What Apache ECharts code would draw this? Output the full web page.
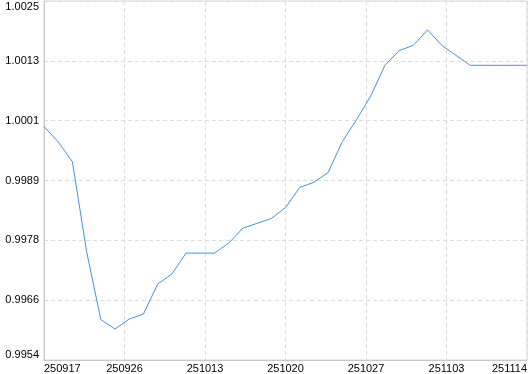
<!DOCTYPE html>
<html>
<head>
<meta charset="utf-8">
<script src="https://cdn.jsdelivr.net/npm/echarts@6/dist/echarts.min.js"></script>
<style>
html,body{margin:0;padding:0;background:#fff;}
#chart{width:530px;height:374px;}
</style>
</head>
<body>
<div id="chart"></div>
<script>
var values = [1.000019, 0.999713, 0.999316, 0.997532, 0.996181, 0.995992, 0.996191, 0.996290,
  0.996886, 0.997085, 0.997502, 0.997502, 0.997502, 0.997700, 0.997998, 0.998094, 0.998191,
  0.998406, 0.998807, 0.998912, 0.999105, 0.999721, 1.000154, 1.000627, 1.001237, 1.001529,
  1.001634, 1.001942, 1.001634, 1.001435, 1.001237, 1.001237, 1.001237, 1.001237, 1.001237];
// X tick labels (evenly spaced along the axis)
var xTickLabels = ['250917', '250926', '251013', '251020', '251027', '251103', '251114'];
// Y tick labels (bottom to top)
var yTickLabels = ['0.9954', '0.9966', '0.9978', '0.9989', '1.0001', '1.0013', '1.0025'];
var yMin = 0.995376;
var yStep = 0.00119;

var xMax = values.length - 1;
var xStep = xMax / (xTickLabels.length - 1);
var seriesData = values.map(function (v, i) { return [i, v]; });

var chart = echarts.init(document.getElementById('chart'), null, {renderer: 'canvas'});
var font = 'Liberation Sans';
chart.setOption({
  animation: false,
  backgroundColor: '#ffffff',
  grid: {
    left: 44, right: 2, top: 1, bottom: 13,
    show: true, borderColor: '#d6d6d6', borderWidth: 1, backgroundColor: 'transparent'
  },
  xAxis: {
    type: 'value',
    min: 0, max: xMax, interval: xStep,
    axisLine: {show: true, lineStyle: {color: '#c8c8c8', width: 1}},
    axisTick: {show: false},
    splitLine: {show: true, lineStyle: {color: '#dcdcdc', type: [4, 3], width: 1}},
    axisLabel: {
      color: '#000', fontFamily: font, fontSize: 11, margin: 3,
      alignMinLabel: 'left', alignMaxLabel: 'right',
      formatter: function (v) { return xTickLabels[Math.round(v / xStep)] || ''; }
    }
  },
  yAxis: {
    type: 'value',
    min: yMin, max: yMin + yStep * (yTickLabels.length - 1), interval: yStep,
    axisLine: {show: true, lineStyle: {color: '#c8c8c8', width: 1}},
    axisTick: {show: false},
    splitLine: {show: true, lineStyle: {color: '#dcdcdc', type: [4, 3], width: 1}},
    axisLabel: {
      color: '#000', fontFamily: font, fontSize: 11, margin: 5,
      verticalAlignMaxLabel: 'top', verticalAlignMinLabel: 'bottom',
      formatter: function (v) { return yTickLabels[Math.round((v - yMin) / yStep)] || ''; }
    }
  },
  series: [{
    type: 'line',
    data: seriesData,
    showSymbol: false,
    symbol: 'none',
    lineStyle: {color: '#4a90e2', width: 1},
    silent: true
  }]
});
</script>
</body>
</html>
